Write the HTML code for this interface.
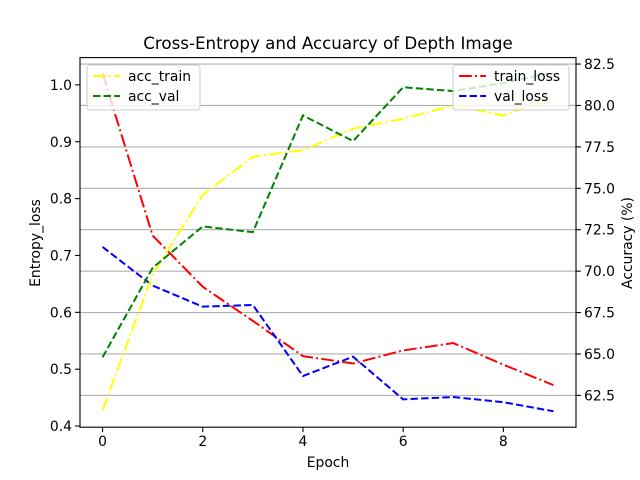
<!DOCTYPE html>
<html><head><meta charset="utf-8"><style>body{margin:0;background:#fff}svg{display:block;font-family:"DejaVu Sans","Liberation Sans",sans-serif}</style></head>
<body>
<svg id="c" width="640" height="480" viewBox="0 0 640 480"></svg>
<script>
const epochs=[0,1,2,3,4,5,6,7,8,9];
const trainLoss=[1.02,0.735,0.645,0.585,0.523,0.51,0.533,0.546,0.508,0.472];
const valLoss=[0.715,0.647,0.61,0.613,0.488,0.522,0.447,0.451,0.442,0.426];
const accTrain=[61.6,69.8,74.6,76.9,77.3,78.6,79.2,80.0,79.4,80.5];
const accVal=[64.8,70.2,72.7,72.35,79.4,77.85,81.1,80.87,81.35,82.0];
const xTicks=[0,2,4,6,8];
const lTicks=[0.4,0.5,0.6,0.7,0.8,0.9,1.0];
const rTicks=[62.5,65.0,67.5,70.0,72.5,75.0,77.5,80.0,82.5];
const L=80,R=576,T=57.6,B=427.2;
const X=v=>L+(v+0.45)/9.9*(R-L);
const YL=v=>B-(v-0.398)/(1.048-0.398)*(B-T);
const YR=v=>B-(v-60.58)/(82.89-60.58)*(B-T);
const s=document.getElementById('c');const NS='http://www.w3.org/2000/svg';
function el(t,a,p){const e=document.createElementNS(NS,t);for(const k in a)e.setAttribute(k,a[k]);(p||s).appendChild(e);return e;}
function tx(x,y,str,a){const e=el('text',Object.assign({x:x,y:y,'font-size':13.9,fill:'#000'},a||{}));e.textContent=str;return e;}
rTicks.forEach(v=>{const g=el('line',{x1:L,x2:R,y1:YR(v),y2:YR(v),stroke:'#b0b0b0','stroke-width':1.1});

});
function series(arr,Y,color,dash,name){const p=el('polyline',{points:arr.map((v,i)=>X(epochs[i])+','+Y(v)).join(' '),fill:'none',stroke:color,'stroke-width':2,'stroke-dasharray':dash});

}
const DD='12.8,3.2,2,3.2',DA='7.4,3.2';
series(trainLoss,YL,'#ff0000',DD,'train-loss-line');
series(valLoss,YL,'#0000ff',DA,'val-loss-line');
series(accTrain,YR,'#ffff00',DD,'acc-train-line');
series(accVal,YR,'#008000',DA,'acc-val-line');
el('rect',{x:L,y:T,width:R-L,height:B-T,fill:'none',stroke:'#000','stroke-width':1.1,});
xTicks.forEach(v=>{el('line',{x1:X(v),x2:X(v),y1:B,y2:B+4.9,stroke:'#000','stroke-width':1.1});tx(X(v),B+19,String(v),{'text-anchor':'middle'});});
lTicks.forEach(v=>{el('line',{x1:L,x2:L-4.9,y1:YL(v),y2:YL(v),stroke:'#000','stroke-width':1.1});tx(L-8,YL(v)+5,v.toFixed(1),{'text-anchor':'end'});});
rTicks.forEach(v=>{el('line',{x1:R,x2:R+4.9,y1:YR(v),y2:YR(v),stroke:'#000','stroke-width':1.1});tx(R+8,YR(v)+5,v.toFixed(1));});
tx(328,467,'Epoch',{'text-anchor':'middle',});
tx(40,243,'Entropy_loss',{'text-anchor':'middle',transform:'rotate(-90 40 243)',});
tx(632,243,'Accuracy (%)',{'text-anchor':'middle',transform:'rotate(-90 632 243)',});
tx(328,49,'Cross-Entropy and Accuarcy of Depth Image',{'text-anchor':'middle','font-size':16.7,});
function legend(x,y,w,items,name){const g=el('g',{});
el('rect',{x:x,y:y,width:w,height:45,fill:'#fff','fill-opacity':0.8,stroke:'#ccc',rx:3},g);
items.forEach((it,i)=>{const yy=y+11+i*20;el('line',{x1:x+6,x2:x+33,y1:yy,y2:yy,stroke:it[1],'stroke-width':2,'stroke-dasharray':it[2]},g);
const t=el('text',{x:x+41,y:yy+5,'font-size':13.9},g);t.textContent=it[0];});}
legend(87,65,113,[['acc_train','#ffff00',DD],['acc_val','#008000',DA]],'legend-left');
legend(453,65,116,[['train_loss','#ff0000',DD],['val_loss','#0000ff',DA]],'legend-right');
</script>
</body></html>
